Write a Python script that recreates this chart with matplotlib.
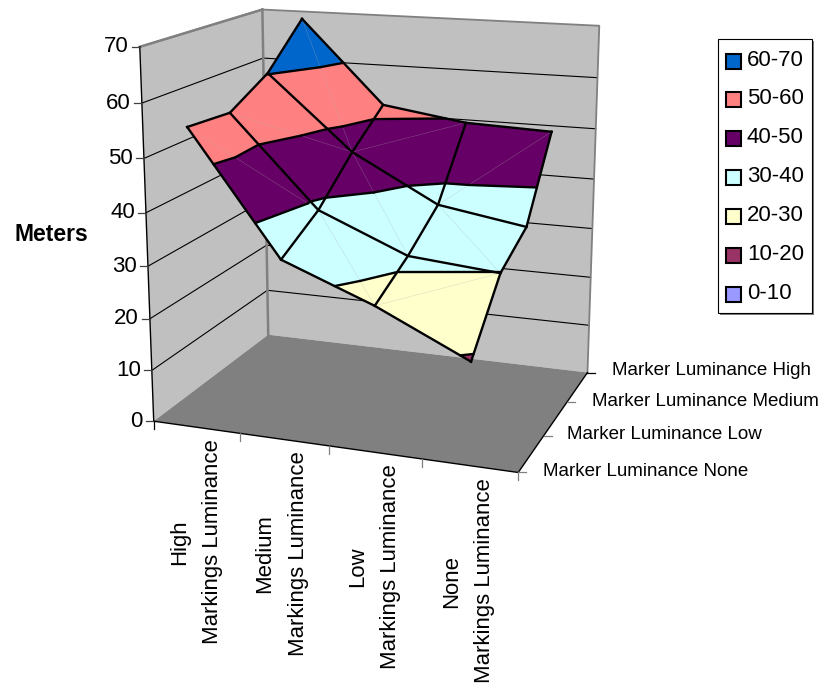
import numpy as np
import matplotlib
matplotlib.use("Agg")
import matplotlib.pyplot as plt
from matplotlib.patches import Rectangle
from mpl_toolkits.mplot3d import proj3d
from mpl_toolkits.mplot3d.art3d import Poly3DCollection

plt.rcParams['font.family'] = ['Liberation Sans', 'DejaVu Sans']

# meters, rows = markings luminance, columns = marker luminance (None..High)
markings = ["High", "Medium", "Low", "None"]
markers = ["None", "Low", "Medium", "High"]
meters_high = [56.3, 55.6, 60.2, 68.5]
meters_medium = [33.8, 38.5, 45.8, 51.9]
meters_low = [27.2, 31.4, 36.8, 49.4]
meters_none = [19.1, 29.9, 34.0, 48.8]

band_labels = ["60-70", "50-60", "40-50", "30-40", "20-30", "10-20", "0-10"]
band_low = [60, 50, 40, 30, 20, 10, 0]
band_colors = ["#0066CC", "#FF8080", "#660066", "#CCFFFF", "#FFFFCC", "#993366", "#9999FF"]
z_ticks = [0, 10, 20, 30, 40, 50, 60, 70]

# which way each surface cell is split: 1 = (i,j)-(i+1,j+1), 0 = (i,j+1)-(i+1,j)
cell_split = [[1, 1, 0],
              [0, 0, 1],
              [1, 0, 1]]

Z = np.array([meters_high, meters_medium, meters_low, meters_none])
xg = (np.arange(4) + 0.5) / 4
yg = np.arange(4) / 3

# camera
scale, off_x, off_y = 3132.94, 379.25, 221.04
W, H = 823, 685

fig = plt.figure(figsize=(8.23, 6.85), dpi=100)
ax = fig.add_subplot(111, projection='3d')
ax.computed_zorder = False
ax.set_xlim(0, 1)
ax.set_ylim(0, 1)
ax.set_zlim(0, 70)
ax.view_init(14.744, -70.197)
ax.set_proj_type('persp', focal_length=0.526)
ax.set_box_aspect((1.315, 1, 1.316))
ax.set_axis_off()
x0, x1 = ax.viewLim.intervalx
y0, y1 = ax.viewLim.intervaly
ax.set_position([(off_x + scale * x0) / W, 1 - (off_y - scale * y0) / H,
                 scale * (x1 - x0) / W, scale * (y1 - y0) / H])
M = ax.get_proj()


def to_px(x, y, z):
    tx, ty, _ = proj3d.proj_transform(x, y, z, M)
    return off_x + scale * tx, off_y - scale * ty


def clip(poly, level, keep_above):
    out = []
    for a, b in zip(poly, poly[1:] + poly[:1]):
        ina = a[2] >= level if keep_above else a[2] <= level
        inb = b[2] >= level if keep_above else b[2] <= level
        if ina:
            out.append(a)
        if ina != inb:
            t = (level - a[2]) / (b[2] - a[2])
            out.append(tuple(a[k] + t * (b[k] - a[k]) for k in range(3)))
    return out


# walls and floor
walls = [[(0, 0, 0), (0, 1, 0), (0, 1, 70), (0, 0, 70)],
         [(0, 1, 0), (1, 1, 0), (1, 1, 70), (0, 1, 70)]]
ax.add_collection3d(Poly3DCollection(walls, facecolors="#C0C0C0", edgecolors="none", zorder=1))
floor = [[(0, 0, 0), (1, 0, 0), (1, 1, 0), (0, 1, 0)]]
ax.add_collection3d(Poly3DCollection(floor, facecolors="#808080", edgecolors="none", zorder=2))

for z in z_ticks[1:-1]:
    ax.plot([0, 0, 1], [0, 1, 1], [z, z, z], color="k", lw=0.8, zorder=3)
ax.plot([0, 0, 1, 1], [0, 1, 1, 1], [70, 70, 70, 0], color="#808080", lw=1.3, zorder=3)
ax.plot([0, 0], [1, 1], [0, 70], color="#808080", lw=1.8, zorder=3)
ax.plot([0, 0], [0, 1], [70, 70], color="#808080", lw=1.8, zorder=3)
ax.plot([0, 0, 1, 1], [0, 0, 0, 1], [70, 0, 0, 0], color="k", lw=1.0, zorder=4)

# surface triangles, cut into the colour bands
tris = []
for i in range(3):
    for j in range(3):
        p = [(xg[a], yg[b], Z[a, b]) for a, b in [(i, j), (i + 1, j), (i + 1, j + 1), (i, j + 1)]]
        if cell_split[i][j]:
            tris += [([p[0], p[1], p[2]], (p[0], p[2])), ([p[0], p[2], p[3]], None)]
        else:
            tris += [([p[0], p[1], p[3]], (p[1], p[3])), ([p[1], p[2], p[3]], None)]

polys, colors = [], []
for tri, _ in tris:
    for low, col in zip(band_low, band_colors):
        piece = clip(clip(list(tri), low, True), low + 10, False)
        if len(piece) >= 3:
            polys.append(piece)
            colors.append(col)
ax.add_collection3d(Poly3DCollection(polys, facecolors=colors, edgecolors=colors, linewidths=0.4, zorder=5))

for _, diag in tris:
    if diag:
        d = np.array(diag)
        ax.plot(d[:, 0], d[:, 1], d[:, 2], color="#B0B0B0", alpha=0.35, lw=0.4, zorder=6)

# band boundary lines
for tri, _ in tris:
    for level in band_low[:-1]:
        pts = []
        for a, b in zip(tri, tri[1:] + tri[:1]):
            if (a[2] - level) * (b[2] - level) < 0:
                t = (level - a[2]) / (b[2] - a[2])
                pts.append([a[k] + t * (b[k] - a[k]) for k in range(3)])
        if len(pts) == 2:
            s = np.array(pts)
            ax.plot(s[:, 0], s[:, 1], s[:, 2], color="k", lw=1.7, zorder=7, solid_capstyle='round')

for i in range(4):
    ax.plot(np.full(4, xg[i]), yg, Z[i], color="k", lw=1.7, zorder=8, solid_joinstyle='round')
    ax.plot(xg, np.full(4, yg[i]), Z[:, i], color="k", lw=1.7, zorder=8, solid_joinstyle='round')

# everything flat goes on an overlay in pixel coordinates
ov = fig.add_axes([0, 0, 1, 1])
ov.set_xlim(0, W)
ov.set_ylim(H, 0)
ov.axis('off')
ov.patch.set_alpha(0)

for z in z_ticks:
    px, py = to_px(0.0, 0.0, float(z))
    ov.plot([px - 8, px], [py, py], color="#404040", lw=0.9)
    ov.text(px - 11, py, str(z), ha='right', va='center', fontsize=16, color="k")

for k in range(5):
    px, py = to_px(k / 4, 0.0, 0.0)
    ov.plot([px, px], [py, py + 8], color="#808080" if k else "k", lw=0.9)

for k in range(4):
    px, py = to_px(1.0, k / 3, 0.0)
    ov.plot([px, px + 8], [py, py], color="#808080" if k < 3 else "k", lw=0.9)

marker_pos = [(543, 471), (567, 434), (592, 401), (612, 370)]
for name, (px, py) in zip(markers, marker_pos):
    ov.text(px, py, "Marker Luminance " + name, ha='left', va='center', fontsize=13.5, color="k")

marking_pos = [(196, 542), (281.5, 554), (374, 566.5), (468, 581)]
for name, (px, py) in zip(markings, marking_pos):
    ov.text(px, py, name + "\nMarkings Luminance", rotation=90, ha='center', va='center',
            ma='center', fontsize=15.9, linespacing=1.78, color="k")

ov.text(51.5, 234, "Meters", ha='center', va='center', fontsize=16.5, fontweight='bold', color="k")

# legend
ov.add_patch(Rectangle((720, 41), 94, 274, fc="#808080", ec="none"))
ov.add_patch(Rectangle((718, 39), 94, 274, fc="white", ec="k", lw=0.8))
for k, (label, col) in enumerate(zip(band_labels, band_colors)):
    cy = 61 + k * 38.85
    ov.add_patch(Rectangle((726, cy - 7.5), 15, 15, fc=col, ec="k", lw=1.5))
    ov.text(747, cy - 1, label, ha='left', va='center', fontsize=16, color="k")

plt.savefig("out.png", dpi=100)
